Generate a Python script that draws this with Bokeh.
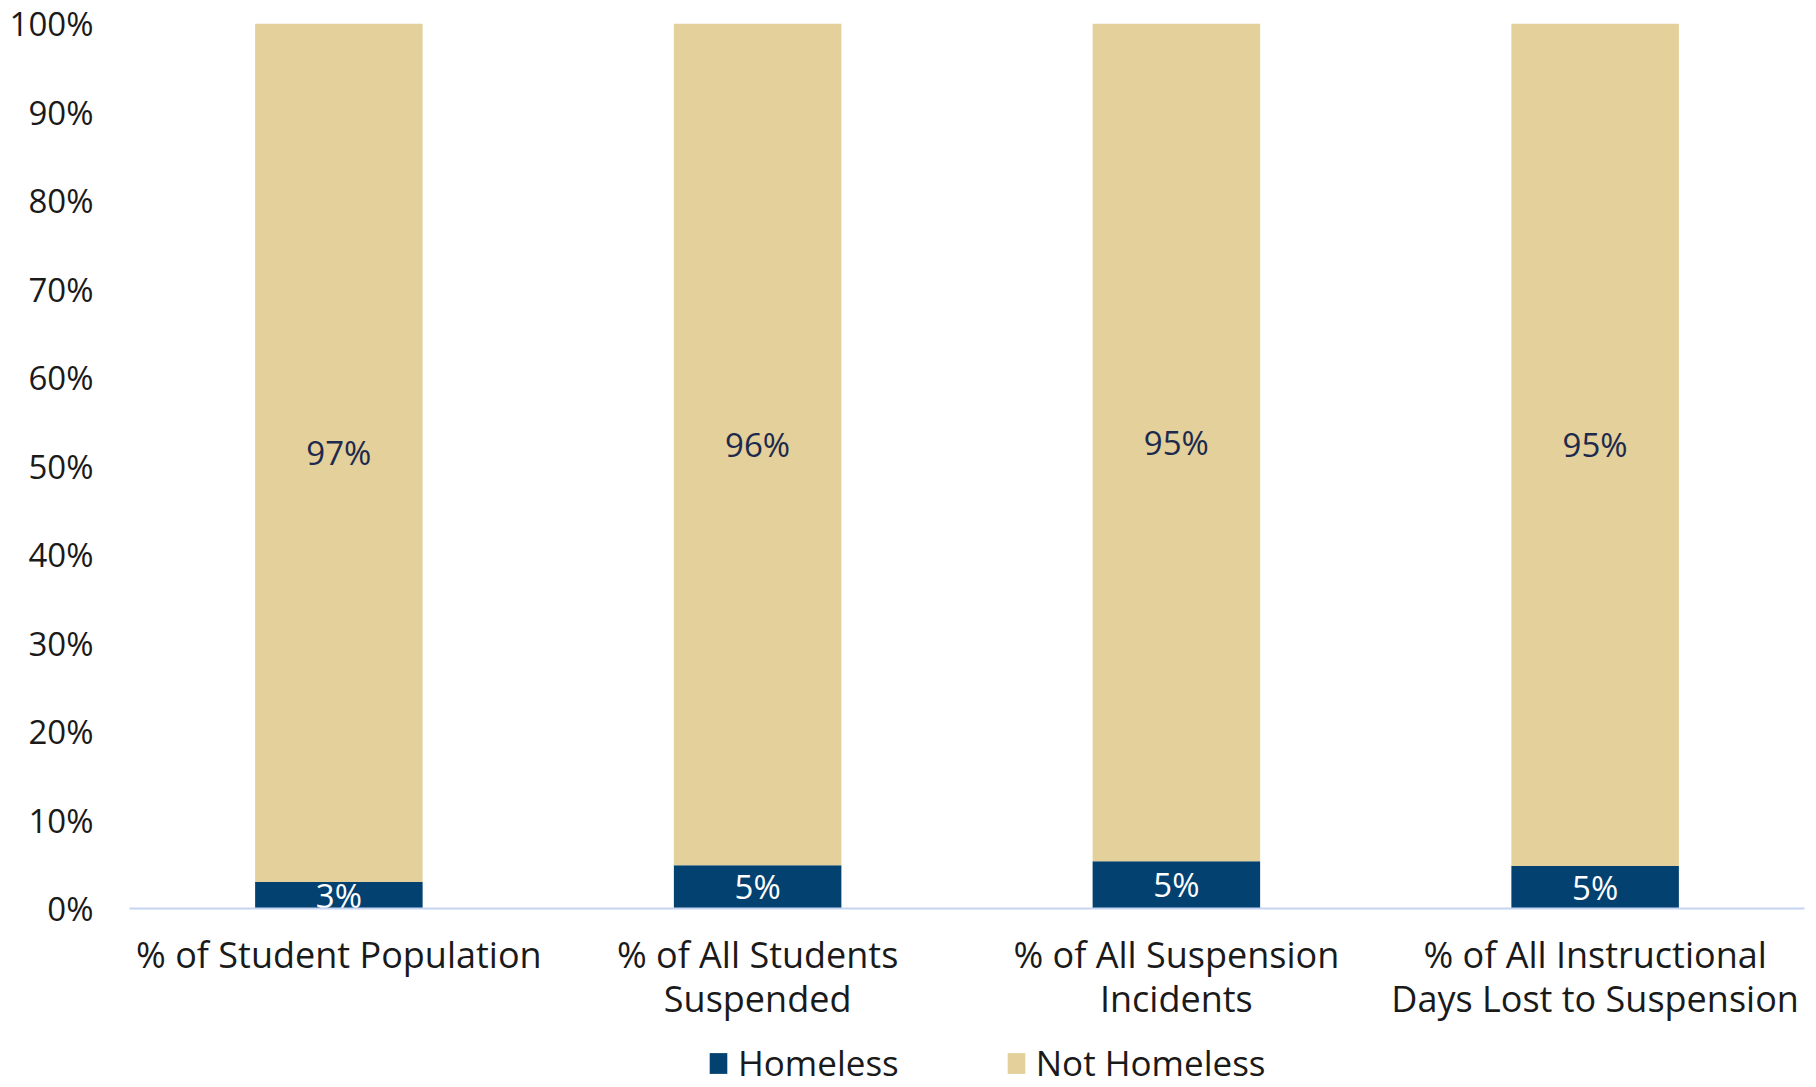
from bokeh.plotting import figure
from bokeh.models import (ColumnDataSource, FactorRange, Range1d, Legend, LegendItem,
                          PrintfTickFormatter, FixedTicker)
from bokeh.layouts import column
from bokeh.embed import file_html
from bokeh.resources import INLINE
from bokeh.core.properties import value
import numpy as np

categories = ["% of Student Population",
              "% of All Students\nSuspended",
              "% of All Suspension\nIncidents",
              "% of All Instructional\nDays Lost to Suspension"]
homeless = [3.0, 4.9, 5.35, 4.8]
not_homeless = [97.0, 95.1, 94.65, 95.2]
homeless_labels = ["3%", "5%", "5%", "5%"]
not_homeless_labels = ["97%", "96%", "95%", "95%"]
series_names = ["Homeless", "Not Homeless"]
y_ticks = [0, 10, 20, 30, 40, 50, 60, 70, 80, 90, 100]

FONT = "Open Sans"
FS = "33px"
C_HOME = "#024170"
C_NOT = "#E3D09A"
TXT = "#1a1a1a"

h = np.array(homeless)
nh = np.array(not_homeless)
src = ColumnDataSource(dict(
    cat=categories, Homeless=homeless, NotHomeless=not_homeless,
    h_mid=list(h / 2), nh_mid=list(h + nh / 2),
    h_lab=homeless_labels, nh_lab=not_homeless_labels,
))

W = 1810
p = figure(x_range=FactorRange(*categories), y_range=Range1d(0, 100),
           width=W, height=1025, output_backend="svg", toolbar_location=None,
           min_border_left=129, min_border_right=6, min_border_top=23,
           min_border_bottom=117)
p.outline_line_color = None
p.xgrid.visible = False
p.ygrid.visible = False

rs = p.vbar_stack(["Homeless", "NotHomeless"], x="cat", width=0.4, source=src,
                  color=[C_HOME, C_NOT], line_color=None)

p.text(x="cat", y="h_mid", text="h_lab", source=src, text_align="center",
       text_baseline="middle", text_color="white", text_font=value(FONT),
       text_font_size=FS)
p.text(x="cat", y="nh_mid", text="nh_lab", source=src, text_align="center",
       text_baseline="middle", text_color="#1d2a4d", text_font=value(FONT),
       text_font_size=FS)

ya = p.yaxis[0]
ya.ticker = FixedTicker(ticks=y_ticks)
ya.formatter = PrintfTickFormatter(format="%d%%")
ya.axis_line_color = None
ya.major_tick_line_color = None
ya.minor_tick_line_color = None
ya.major_tick_out = 0
ya.major_tick_in = 0
ya.major_label_standoff = 36
ya.major_label_text_font = FONT
ya.major_label_text_font_size = FS
ya.major_label_text_color = TXT

xa = p.xaxis[0]
xa.axis_line_color = "#c6d4f4"
xa.axis_line_width = 2
xa.major_tick_line_color = None
xa.minor_tick_line_color = None
xa.major_tick_out = 0
xa.major_tick_in = 0
xa.major_label_standoff = 21
xa.major_label_text_font = FONT
xa.major_label_text_font_size = "36px"
xa.major_label_text_line_height = 0.9
xa.major_label_text_color = TXT

# legend strip below the chart (zero-height proxy bars carry the series colours)
q = figure(width=W, height=61, x_range=Range1d(0, 1), y_range=Range1d(0, 1),
           x_axis_type=None, y_axis_type=None, output_backend="svg",
           toolbar_location=None, min_border=0)
q.outline_line_color = None
q.grid.visible = False
lr1 = q.vbar(x=[0.5], top=[0], bottom=[0], width=0.1, color=C_HOME, line_color=None)
lr2 = q.vbar(x=[0.5], top=[0], bottom=[0], width=0.1, color=C_NOT, line_color=None)
legend = Legend(items=[LegendItem(label=series_names[0], renderers=[lr1]),
                       LegendItem(label=series_names[1], renderers=[lr2])],
                orientation="horizontal", location=(578, 0), padding=0, margin=0,
                spacing=106, glyph_width=22, glyph_height=26, label_standoff=9,
                label_text_font=FONT, label_text_font_size="35px",
                label_text_color=TXT,
                border_line_color=None, background_fill_alpha=0)
q.add_layout(legend, "center")

layout = column(p, q, spacing=0)
open("out.html", "w").write(file_html(layout, INLINE))
